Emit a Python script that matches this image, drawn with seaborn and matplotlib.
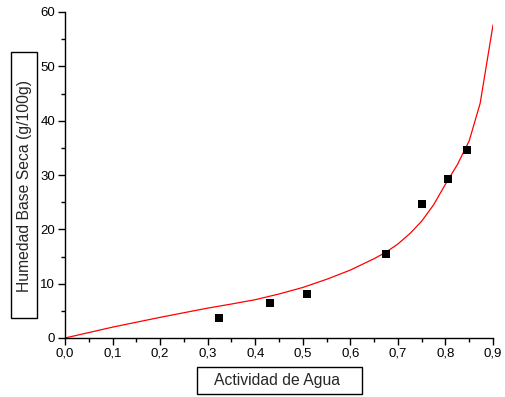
import matplotlib
matplotlib.use("Agg")
import matplotlib.pyplot as plt
from matplotlib.patches import Rectangle
from matplotlib.ticker import MultipleLocator, FuncFormatter
import seaborn as sns
import pandas as pd

# Experimental sorption data
aw_exp = [0.323, 0.431, 0.509, 0.675, 0.751, 0.805, 0.845]
hum_exp = [3.6, 6.4, 8.1, 15.5, 24.7, 29.3, 34.6]

# Fitted isotherm curve
aw_fit = [0.0, 0.05, 0.1, 0.15, 0.2, 0.25, 0.3, 0.35, 0.4, 0.45, 0.5, 0.55, 0.6,
          0.65, 0.675, 0.7, 0.725, 0.75, 0.775, 0.8, 0.825, 0.85, 0.873, 0.9]
hum_fit = [0.0, 1.0, 2.0, 2.9, 3.8, 4.65, 5.5, 6.25, 7.05, 8.1, 9.3, 10.8, 12.5,
           14.6, 15.8, 17.3, 19.2, 21.5, 24.5, 28.3, 31.9, 36.3, 43.2, 57.6]

x_label = "Actividad de Agua"
y_label = "Humedad Base Seca (g/100g)"

sns.set_theme(style="ticks")
plt.rcParams["font.family"] = ["Liberation Sans", "DejaVu Sans"]

df_exp = pd.DataFrame({"aw": aw_exp, "hum": hum_exp})
df_fit = pd.DataFrame({"aw": aw_fit, "hum": hum_fit})

W, H = 505, 397
fig = plt.figure(figsize=(W / 100, H / 100), dpi=100)
ax = fig.add_axes([65 / W, (H - 338) / H, (493 - 65) / W, (338 - 12) / H])

sns.lineplot(data=df_fit, x="aw", y="hum", ax=ax, color="#ff0000", linewidth=0.9, sort=False)
sns.scatterplot(data=df_exp, x="aw", y="hum", ax=ax, marker="s", s=34, color="black",
                edgecolor="black", linewidth=0, zorder=5)

ax.set_xlim(0, 0.9)
ax.set_ylim(0, 60)
ax.xaxis.set_major_locator(MultipleLocator(0.1))
ax.xaxis.set_minor_locator(MultipleLocator(0.05))
ax.yaxis.set_major_locator(MultipleLocator(10))
ax.yaxis.set_minor_locator(MultipleLocator(5))
ax.xaxis.set_major_formatter(FuncFormatter(lambda v, p: f"{v:.1f}".replace(".", ",")))
ax.yaxis.set_major_formatter(FuncFormatter(lambda v, p: f"{v:.0f}"))

sns.despine(ax=ax)
for s in ("left", "bottom"):
    ax.spines[s].set_linewidth(1.0)
    ax.spines[s].set_color("black")
ax.tick_params(which="major", length=5, width=1.0, color="black", labelsize=9.5,
               labelcolor="black", pad=2)
ax.tick_params(which="minor", length=3, width=1.0, color="black")

ax.set_xlabel("")
ax.set_ylabel("")


def framed(x0, y0, x1, y1):
    """Add a black-edged white box given in pixel coordinates (top-left origin)."""
    fig.patches.append(Rectangle((x0 / W, 1 - y1 / H), (x1 - x0) / W, (y1 - y0) / H,
                                 transform=fig.transFigure, facecolor="white",
                                 edgecolor="black", linewidth=1.0, zorder=1))


framed(197, 367, 362, 394)
fig.text(277 / W, 1 - 381 / H, x_label, ha="center", va="center", fontsize=11.3, zorder=2)

framed(11, 52, 37, 318)
fig.text(24.5 / W, 1 - 186 / H, y_label, ha="center", va="center", rotation=90,
         fontsize=11.3, zorder=2)

fig.savefig("out.png", dpi=100)
